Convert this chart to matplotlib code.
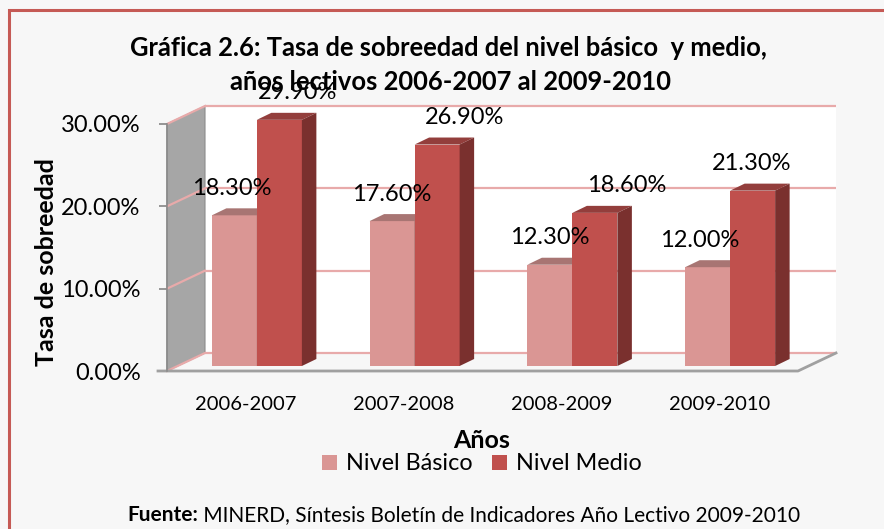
import matplotlib
matplotlib.use("Agg")
import matplotlib.pyplot as plt
from matplotlib.patches import Polygon, Rectangle
from matplotlib.ticker import FuncFormatter

plt.rcParams['font.family'] = ['Lato', 'DejaVu Sans']

# ---------------- data ----------------
categories = ["2006-2007", "2007-2008", "2008-2009", "2009-2010"]
nivel_basico = [18.3, 17.6, 12.3, 12.0]
nivel_medio = [29.9, 26.9, 18.6, 21.3]
series_names = ["Nivel Básico", "Nivel Medio"]
y_ticks = [0, 10, 20, 30]

title_line1 = "Gráfica 2.6: Tasa de sobreedad del nivel básico  y medio,"
title_line2 = "años lectivos 2006-2007 al 2009-2010"
y_label = "Tasa de sobreedad"
x_label = "Años"
source_bold = "Fuente:"
source_text = " MINERD, Síntesis Boletín de Indicadores Año Lectivo 2009-2010"

# ---------------- style ----------------
W, H = 884, 529
BG = "#F7F7F7"
BORDER = "#C55A55"
C_BAS = "#DA9694"
C_BAS_TOP = "#A87573"
C_BAS_SIDE = "#8F5F5D"
C_MED = "#C0504D"
C_MED_TOP = "#933E3C"
C_MED_SIDE = "#7A302E"
WALL = "#A6A6A6"
WALL_EDGE = "#8C8C8C"
GRID = "#E8AAAA"
FLOOR_EDGE = "#A0A0A0"

fig = plt.figure(figsize=(W / 100, H / 100), dpi=100)
fig.patch.set_facecolor(BG)

# outer border (right/bottom edges fall outside the image, as in the reference)
fig.add_artist(Rectangle((8.5 / W, -0.1), 1.2, 1 - 10 / H + 0.1, transform=fig.transFigure,
                         fill=False, edgecolor=BORDER, lw=2.2))

# front plane of the 3D box
left_px, right_px, bot_px, top_px = 167, 798, 371, 124
ax = fig.add_axes([left_px / W, 1 - bot_px / H, (right_px - left_px) / W, (bot_px - top_px) / H])
ax.set_xlim(-0.5, len(categories) - 0.5)
ax.set_ylim(0, 30)
ax.patch.set_visible(False)

ppx = (right_px - left_px) / (len(categories))  # pixels per x unit
ppy = (bot_px - top_px) / 30.0                  # pixels per y unit


def dx(p):
    return p / ppx


def dy(p):
    return p / ppy


x0, x1 = ax.get_xlim()
y0, y1 = ax.get_ylim()
BX, BY = dx(38), dy(18)      # front -> back wall
OX, OY = dx(11), dy(5)       # front -> bar front plane
DX, DY = dx(14.5), dy(7)     # bar depth

# back wall
ax.add_patch(Polygon([(x0 + BX, y0 + BY), (x1 + BX, y0 + BY), (x1 + BX, y1 + BY), (x0 + BX, y1 + BY)],
                     closed=True, facecolor="white", edgecolor="none", zorder=0.5, clip_on=False))
# left side wall
ax.add_patch(Polygon([(x0, y0), (x0 + BX, y0 + BY), (x0 + BX, y1 + BY), (x0, y1)],
                     closed=True, facecolor=WALL, edgecolor=WALL_EDGE, lw=0.8, zorder=1, clip_on=False))
# floor
ax.add_patch(Polygon([(x0, y0), (x1, y0), (x1 + BX, y0 + BY), (x0 + BX, y0 + BY)],
                     closed=True, facecolor=BG, edgecolor="none", zorder=0.6, clip_on=False))
# gridlines on back wall and side wall
for v in y_ticks:
    ax.plot([x0 + BX, x1 + BX], [v + BY, v + BY], color=GRID, lw=1.6, zorder=1.5, clip_on=False,
            solid_capstyle="butt")
    ax.plot([x0, x0 + BX], [v, v + BY], color=GRID, lw=1.6, zorder=1.5, clip_on=False)
# floor front/right edges
ax.plot([x0 - dx(9), x1, x1 + BX], [y0, y0, y0 + BY], color=FLOOR_EDGE, lw=2.0, zorder=2, clip_on=False)
ax.plot([x0, x0], [y0, y1], color=WALL_EDGE, lw=1.2, zorder=2, clip_on=False)

# bars
w = dx(45)
xs = list(range(len(categories)))
bas_x = [x + OX - w / 2 for x in xs]
med_x = [x + OX + w / 2 for x in xs]


def draw_3d(bars, top, side):
    for b in bars:
        bx0 = b.get_x()
        bx1 = bx0 + b.get_width()
        by0 = b.get_y()
        by1 = by0 + b.get_height()
        z = b.get_zorder()
        ax.add_patch(Polygon([(bx0, by1), (bx1, by1), (bx1 + DX, by1 + DY), (bx0 + DX, by1 + DY)],
                             closed=True, facecolor=top, edgecolor="none", zorder=z, clip_on=False))
        ax.add_patch(Polygon([(bx1, by0), (bx1 + DX, by0 + DY), (bx1 + DX, by1 + DY), (bx1, by1)],
                             closed=True, facecolor=side, edgecolor="none", zorder=z, clip_on=False))


bars_b = ax.bar(bas_x, nivel_basico, width=w, bottom=OY, color=C_BAS, zorder=3, clip_on=False,
                label=series_names[0])
draw_3d(bars_b, C_BAS_TOP, C_BAS_SIDE)

bars_m = ax.bar(med_x, nivel_medio, width=w, bottom=OY, color=C_MED, zorder=4, clip_on=False,
                label=series_names[1])
draw_3d(bars_m, C_MED_TOP, C_MED_SIDE)

# data labels (pixel nudges mimic Excel's 3D label placement)
lab_fs = 17
nudge_b = [-3, 0, 0, -8]
nudge_m = [18, 27, 32, -1]
for x, v, n in zip(bas_x, nivel_basico, nudge_b):
    ax.text(x + dx(n), OY + v + dy(27), f"{v:.2f}%", ha="center", va="center", fontsize=lab_fs,
            zorder=6, clip_on=False)
for x, v, n in zip(med_x, nivel_medio, nudge_m):
    ax.text(x + dx(n), OY + v + dy(27), f"{v:.2f}%", ha="center", va="center", fontsize=lab_fs,
            zorder=6, clip_on=False)

# axes
for s in ax.spines.values():
    s.set_visible(False)
ax.set_yticks(y_ticks)
ax.yaxis.set_major_formatter(FuncFormatter(lambda v, p: f"{v:.2f}%"))
ax.tick_params(axis="y", length=6, width=1.2, color="#868686", pad=13, labelsize=17)
ax.set_xticks(xs)
ax.set_xticklabels(categories)
ax.tick_params(axis="x", length=0, pad=18, labelsize=14.5)

# titles / labels
fig.text(448 / W, 1 - 48 / H, title_line1, ha="center", va="center", fontsize=18.4, fontweight="bold")
fig.text(451 / W, 1 - 82 / H, title_line2, ha="center", va="center", fontsize=18.4, fontweight="bold")
fig.text(47 / W, 1 - 262 / H, y_label, ha="center", va="center", rotation=90, fontsize=18,
         fontweight="bold")
fig.text(482 / W, 1 - 440 / H, x_label, ha="center", va="center", fontsize=18, fontweight="bold")

fig.legend(handles=[bars_b, bars_m], labels=series_names, loc="center",
           bbox_to_anchor=(482 / W, 1 - 464 / H), ncol=2, frameon=False, fontsize=16.8,
           handlelength=0.65, handleheight=0.65, handletextpad=0.4, columnspacing=0.8,
           borderpad=0.1)

t1 = fig.text(127 / W, 1 - 515 / H, source_bold, ha="left", va="center", fontsize=15,
              fontweight="bold")
plt.annotate(source_text, xy=(1, 0.5), xycoords=t1, ha="left", va="center", fontsize=15)

fig.savefig("out.png", dpi=100, facecolor=BG)
